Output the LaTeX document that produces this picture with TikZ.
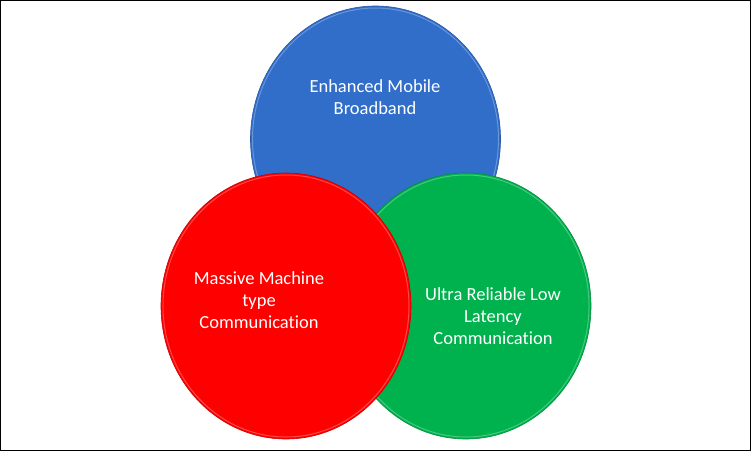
\documentclass[tikz,border=0pt]{standalone}
\usepackage{fontspec}
\setmainfont{Carlito}[Ligatures=NoCommon]
\usetikzlibrary{shapes.geometric}

\definecolor{embbblue}{RGB}{48,110,202}
\definecolor{mmtcred}{RGB}{255,0,0}
\definecolor{urllcgreen}{RGB}{0,178,78}

\begin{document}
\begin{tikzpicture}[x=1pt, y=-1pt,
    disc/.style={ellipse, minimum width=250pt, minimum height=266pt, inner sep=0pt, line width=0.6pt},
    disctext/.style={white, align=center, font=\fontsize{18.5}{22}\selectfont}]

% Frame round the page
\useasboundingbox (0,0) rectangle (752,452);
\draw[line width=1.2pt] (0.6,0.6) rectangle (750.6,450.4);

% Function to draw one service disc with its bevel rim
\newcommand{\drawservicedisc}[4]{
    % #1 is the Name, #2 is the colour, #3 is the X centre, #4 is the Y centre
    \node[disc, fill=#2, draw=#2!80!black] (#1) at (#3,#4) {};
    \draw[white, opacity=0.28, line width=1pt] (#3,#4) ellipse [x radius=123, y radius=131];
}

% Draw the three discs (back to front)
\drawservicedisc{embb}{embbblue}{375.5}{139}
\drawservicedisc{urllc}{urllcgreen}{466}{306}
\drawservicedisc{mmtc}{mmtcred}{286}{306}

% Labels
\node[disctext] (embblabel) at (375,97) {Enhanced Mobile\\Broadband};
\node[disctext] (mmtclabel) at (259,300) {Massive Machine\\type\\Communication};
\node[disctext] (urllclabel) at (493,316) {Ultra Reliable Low\\Latency\\Communication};

\end{tikzpicture}
\end{document}
